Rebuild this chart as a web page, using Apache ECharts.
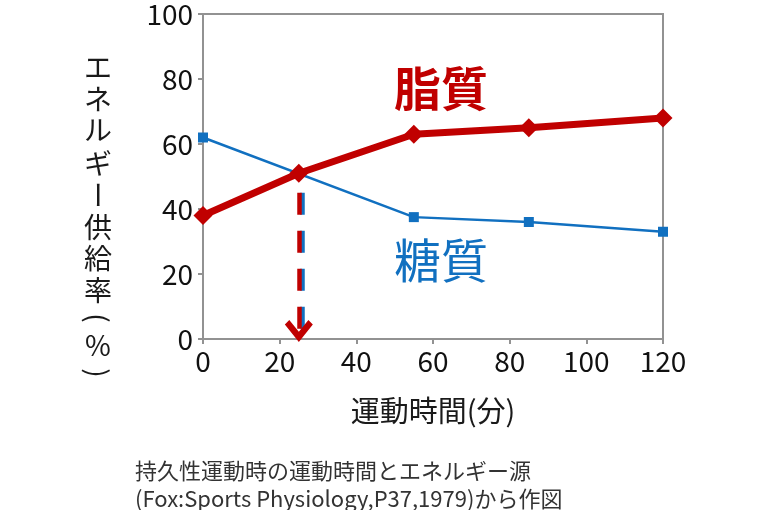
<!DOCTYPE html>
<html>
<head>
<meta charset="utf-8">
<script src="https://cdn.jsdelivr.net/npm/echarts@6/dist/echarts.min.js"></script>
<style>
  html, body { margin: 0; padding: 0; background: #fff; }
  #chart { width: 770px; height: 510px; }
</style>
</head>
<body>
<div id="chart"></div>
<script>
// 運動時間(分)
var fatTimes = [0, 25, 55, 85, 120]
var fatValues = [38, 51, 63, 65, 68]
var carbTimes = [0, 55, 85, 120]
var carbValues = [62, 37.5, 36, 33]
// 交差点から x 軸への矢印
var crossTime = 25
var arrowFrom = 45
var arrowTo = 2.5

// 縦書きの軸タイトル (r: 縦書きで90度回す文字)
var yTitleChars = [
  { c: 'エ', y: 67 }, { c: 'ネ', y: 99 }, { c: 'ル', y: 130 }, { c: 'ギ', y: 163 },
  { c: 'ー', y: 195, r: true }, { c: '供', y: 227 }, { c: '給', y: 258 }, { c: '率', y: 290 },
  { c: '(', y: 318, r: true }, { c: '%', y: 345 }, { c: ')', y: 373, r: true }
]

var FONT = '"Noto Sans CJK JP", "Noto Sans", sans-serif'

function pairs(xs, ys) {
  return xs.map(function (x, i) { return [x, ys[i]] })
}

var titleGraphics = yTitleChars.map(function (d) {
  return {
    type: 'text',
    x: 98,
    y: d.y,
    rotation: d.r ? -Math.PI / 2 : 0,
    style: {
      text: d.c,
      font: '28px ' + FONT,
      fill: '#1a1a1a',
      align: 'center',
      verticalAlign: 'middle'
    }
  }
})

var myChart = echarts.init(document.getElementById('chart'))
var option = {
  animation: false,
  backgroundColor: '#fff',
  grid: {
    left: 203,
    right: 107,
    top: 9,
    bottom: 171,
    show: true,
    borderColor: '#929292',
    borderWidth: 2
  },
  xAxis: {
    type: 'value',
    min: 0,
    max: 120,
    interval: 20,
    name: '運動時間(分)',
    nameLocation: 'middle',
    nameGap: 57,
    nameTextStyle: { fontFamily: FONT, fontSize: 29, color: '#1a1a1a' },
    axisLine: { lineStyle: { color: '#929292', width: 2 } },
    axisTick: { show: true, length: 5, lineStyle: { color: '#929292', width: 2 } },
    axisLabel: { fontFamily: FONT, fontSize: 28, color: '#111', margin: 8 },
    splitLine: { show: false }
  },
  yAxis: {
    type: 'value',
    min: 0,
    max: 100,
    interval: 20,
    axisLine: { show: true, lineStyle: { color: '#929292', width: 2 } },
    axisTick: { show: true, length: 5, lineStyle: { color: '#929292', width: 2 } },
    axisLabel: { fontFamily: FONT, fontSize: 28, color: '#111', margin: 10 },
    splitLine: { show: false }
  },
  graphic: titleGraphics.concat([
    {
      type: 'text',
      left: 394,
      top: 65,
      style: { text: '脂質', font: 'bold 47px ' + FONT, fill: '#c00000' }
    },
    {
      type: 'text',
      left: 394,
      top: 237,
      style: { text: '糖質', font: '47px ' + FONT, fill: '#1170c0' }
    },
    {
      type: 'text',
      left: 135,
      top: 457,
      style: {
        text: '持久性運動時の運動時間とエネルギー源\n(Fox:Sports Physiology,P37,1979)から作図',
        font: '22px ' + FONT,
        fill: '#333',
        lineHeight: 28
      }
    }
  ]),
  series: [
    {
      name: '糖質',
      type: 'line',
      data: pairs(carbTimes, carbValues),
      symbol: 'rect',
      symbolSize: 10,
      lineStyle: { color: '#1170c0', width: 2.5 },
      itemStyle: { color: '#1170c0' },
      z: 2
    },
    {
      name: '脂質',
      type: 'line',
      data: pairs(fatTimes, fatValues),
      symbol: 'diamond',
      symbolSize: 19,
      lineStyle: { color: '#c00000', width: 7 },
      itemStyle: { color: '#c00000' },
      z: 3,
      markLine: {
        silent: true,
        symbol: ['none', 'path://M0,11 L11,0 L22,11 L18.5,14 L11,6.5 L3.5,14 Z'],
        symbolSize: [28, 22],
        label: { show: false },
        lineStyle: {
          color: '#c00000',
          width: 4.5,
          type: [22, 16],
          shadowColor: '#1170c0',
          shadowOffsetX: 3,
          shadowBlur: 0
        },
        data: [[{ coord: [crossTime, arrowFrom] }, { coord: [crossTime, arrowTo] }]]
      }
    }
  ]
}
myChart.setOption(option)
</script>
</body>
</html>
